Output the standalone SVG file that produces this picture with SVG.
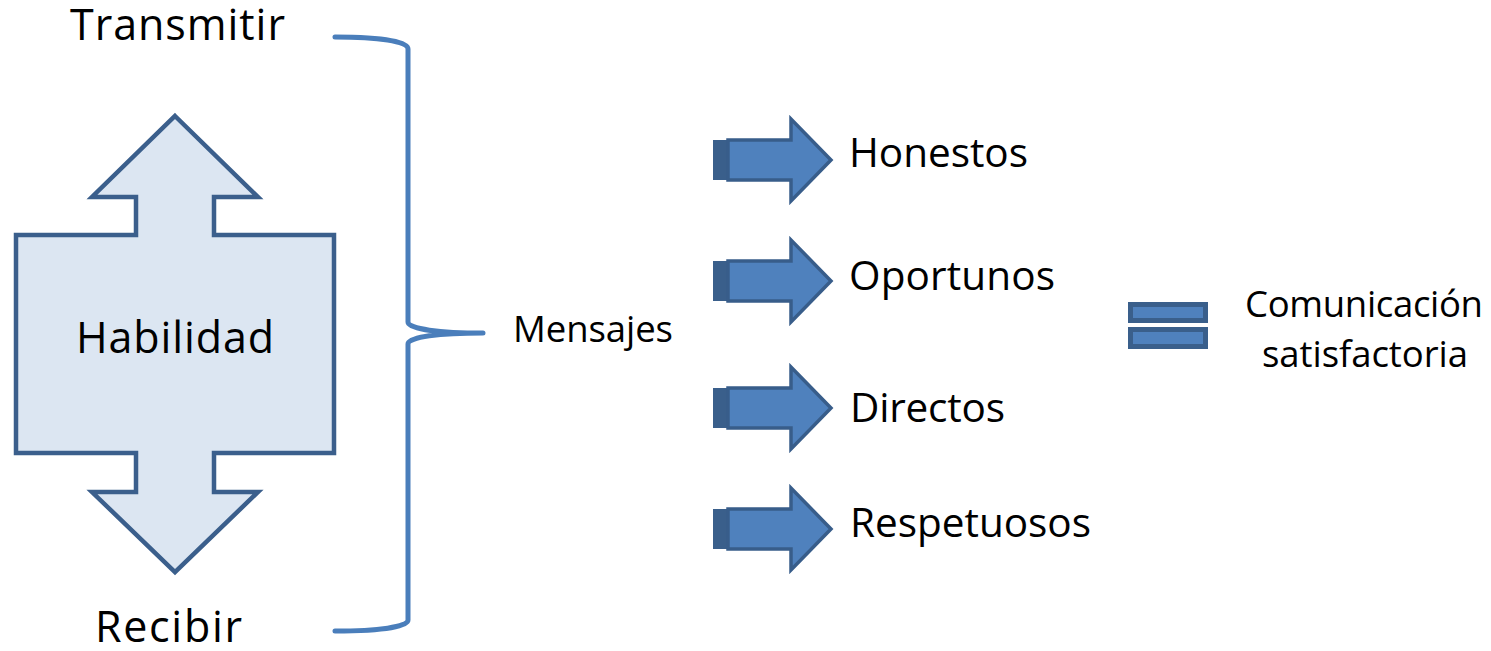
<svg xmlns="http://www.w3.org/2000/svg" width="1491" height="651" viewBox="0 0 1491 651">
<defs>
<style>
.t{font-family:"Open Sans","Noto Sans","Liberation Sans",sans-serif;fill:#000}
.big{font-size:43px}
.mid{font-size:40.5px}
.sm{font-size:36.5px}
.arr{fill:#4f81bd;stroke:#385d8a;stroke-width:3.5;stroke-linejoin:miter}
.stripe{fill:#3a5f8b}
.brace{fill:none;stroke:#4a7ebb;stroke-width:5;stroke-linecap:round;stroke-linejoin:round}
.eq{fill:#4f81bd;stroke:#3a5f8b;stroke-width:5}
</style>
<g id="rarrow">
<rect class="stripe" x="713" y="-20" width="15" height="40"/>
<polygon class="arr" points="728,-20 791,-20 791,-41 831,0 791,41 791,20 728,20"/>
</g>
</defs>
<rect width="1491" height="651" fill="#fff"/>

<g id="habilidad">
<polygon points="175,116 258,197 214,197 214,235 334,235 334,453 214,453 214,492 258,492 175,572 92,492 136,492 136,453 16,453 16,235 136,235 136,197 92,197" fill="#dce6f2" stroke="#3b5f8c" stroke-width="4.5" stroke-linejoin="miter"/>
<text class="t big" x="175" y="353" text-anchor="middle" textLength="198">Habilidad</text>
</g>

<g id="transmitir"><text class="t big" x="70" y="40" textLength="215">Transmitir</text></g>
<g id="recibir"><text class="t big" x="95" y="642" textLength="147">Recibir</text></g>

<g id="connectors">
<path class="brace" d="M335,37 C378,37 408,41 408,49 L408,322 C408,329 440,333 483,333 C440,333 408,337 408,344 L408,620 C408,627 378,631 335,631"/>
</g>

<g id="mensajes"><text class="t sm" x="513" y="342" textLength="160">Mensajes</text></g>

<g id="honestos">
<use href="#rarrow" y="160"/>
<text class="t mid" x="849" y="167" textLength="179">Honestos</text>
</g>
<g id="oportunos">
<use href="#rarrow" y="281"/>
<text class="t mid" x="849" y="290" textLength="206">Oportunos</text>
</g>
<g id="directos">
<use href="#rarrow" y="408"/>
<text class="t mid" x="850" y="422" textLength="155">Directos</text>
</g>
<g id="respetuosos">
<use href="#rarrow" y="529"/>
<text class="t mid" x="850" y="537" textLength="241">Respetuosos</text>
</g>

<g id="igual">
<rect class="eq" x="1130.5" y="304.5" width="75" height="16"/>
<rect class="eq" x="1130.5" y="329.5" width="75" height="17"/>
</g>

<g id="comunicacion">
<text class="t sm" x="1364" y="317" text-anchor="middle" textLength="238">Comunicación</text>
<text class="t sm" x="1365" y="367" text-anchor="middle" textLength="206">satisfactoria</text>
</g>
</svg>
